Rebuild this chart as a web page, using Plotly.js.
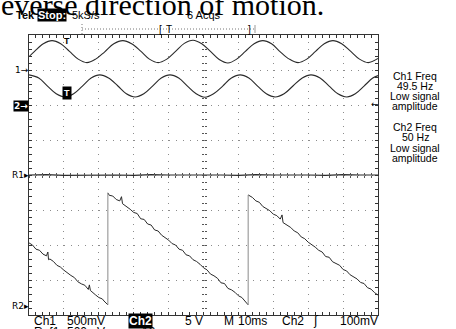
<!DOCTYPE html>
<html>
<head>
<meta charset="utf-8">
<script src="https://cdn.plot.ly/plotly-3.0.1.min.js"></script>
<style>html,body{margin:0;padding:0;background:#fff;}#chart{width:456px;height:329px;}</style>
</head>
<body>
<div id="chart"></div>
<script>
// ---- data (time in ms, amplitude in divisions) ----
const ch1_t = [0, 1.6, 4.1, 6.6, 9.1, 11.6, 14.1, 16.6, 19.1, 21.7, 24.3, 26.9, 29.4, 32.0, 34.5, 37.0, 39.5, 42.0, 44.5, 47.0, 49.5, 52.0, 54.5, 57.0, 59.5, 62.0, 64.5, 67.0, 69.5, 72.0, 74.6, 77.1, 79.6, 82.1, 84.6, 87.1, 89.6, 92.2, 94.7, 97.2, 100];
const ch1_v = [3.38, 3.53, 3.75, 3.84, 3.75, 3.53, 3.31, 3.21, 3.31, 3.52, 3.75, 3.84, 3.75, 3.54, 3.31, 3.21, 3.31, 3.53, 3.76, 3.85, 3.75, 3.53, 3.30, 3.20, 3.31, 3.53, 3.75, 3.84, 3.75, 3.52, 3.31, 3.21, 3.31, 3.53, 3.75, 3.84, 3.75, 3.53, 3.31, 3.21, 3.33];

const ch2_t = [0, 2.8, 5.3, 7.8, 10.3, 12.8, 15.3, 17.8, 20.3, 22.8, 25.4, 27.9, 30.4, 32.9, 35.4, 37.9, 40.4, 42.9, 45.4, 47.9, 50.4, 52.9, 55.5, 58.0, 60.5, 63.0, 65.5, 68.0, 70.5, 73.1, 75.7, 78.3, 80.8, 83.4, 86.0, 88.5, 91.1, 93.5, 96.0, 98.5, 100];
const ch2_v = [2.86, 2.77, 2.54, 2.32, 2.23, 2.32, 2.54, 2.77, 2.86, 2.77, 2.55, 2.32, 2.23, 2.32, 2.54, 2.77, 2.86, 2.77, 2.54, 2.32, 2.22, 2.32, 2.54, 2.77, 2.86, 2.77, 2.54, 2.32, 2.23, 2.32, 2.55, 2.77, 2.86, 2.77, 2.54, 2.32, 2.23, 2.32, 2.54, 2.77, 2.84];

const ref1_t = [0, 5, 10, 15, 20, 25, 30, 35, 40, 45, 50, 55, 60, 65, 70, 75, 80, 85, 90, 95, 100];
const ref1_v = [0, 0.01, -0.01, 0, 0.01, 0, -0.01, 0.01, 0, 0, 0.02, 0, -0.01, 0.01, 0, 0.01, 0, -0.01, 0.01, 0, 0];

const ramp1_t = [0, 1, 2, 3, 4, 5, 5.4, 5.6, 6, 7, 8, 9, 10, 11, 12, 13, 14, 15, 16, 17, 17.3, 17.6, 18, 19, 20, 21, 21.5, 22, 22.6];
const ramp1_v = [-1.94, -2.00, -2.12, -2.15, -2.26, -2.31, -2.20, -2.42, -2.40, -2.47, -2.58, -2.63, -2.72, -2.80, -2.87, -2.93, -3.05, -3.11, -3.15, -3.27, -3.14, -3.30, -3.34, -3.42, -3.50, -3.54, -3.60, -3.66, -3.71];

const ramp2_t = [22.6, 23, 24, 25, 26, 26.5, 26.8, 28, 29, 30, 31, 32, 33, 34, 35, 36, 37, 38, 39, 40, 41, 42, 43, 44, 45, 46, 47, 48, 49, 50, 51, 52, 53, 54, 55, 56, 57, 58, 59, 60, 61, 62, 62.8];
const ramp2_v = [-0.51, -0.58, -0.60, -0.70, -0.74, -0.62, -0.82, -0.90, -0.98, -1.07, -1.10, -1.25, -1.27, -1.40, -1.43, -1.57, -1.60, -1.72, -1.78, -1.86, -1.96, -2.00, -2.12, -2.15, -2.28, -2.31, -2.42, -2.47, -2.55, -2.65, -2.71, -2.83, -2.88, -2.95, -3.08, -3.10, -3.24, -3.28, -3.35, -3.45, -3.50, -3.62, -3.71];

const ramp3_t = [62.8, 64, 65, 66, 67, 68, 69, 70, 71, 72, 72.5, 72.8, 74, 75, 76, 77, 78, 79, 80, 81, 82, 83, 84, 85, 86, 87, 88, 89, 90, 91, 92, 93, 94, 95, 96, 97, 98, 99, 100];
const ramp3_v = [-0.57, -0.64, -0.74, -0.78, -0.90, -0.95, -1.02, -1.12, -1.16, -1.26, -1.14, -1.36, -1.43, -1.50, -1.60, -1.65, -1.77, -1.82, -1.92, -1.98, -2.06, -2.15, -2.20, -2.33, -2.35, -2.48, -2.52, -2.58, -2.70, -2.74, -2.85, -2.90, -2.97, -3.07, -3.10, -3.22, -3.26, -3.36, -3.43];

const freqLabels = ["Ch1 Freq", "49.5 Hz", "Low signal", "amplitude", "Ch2 Freq", "50 Hz", "Low signal", "amplitude"];

// ---- geometry helpers (pixel -> paper) ----
const L = 29, T = 35, W = 349, H = 280;
const px = x => (x - L) / W;
const py = y => (T + H - y) / H;

const TRACE = '#2a2a2a';
const last = a => a[a.length - 1];
const edge_t = [last(ramp1_t), ramp2_t[0], null, last(ramp2_t), ramp3_t[0]];
const edge_v = [last(ramp1_v), ramp2_v[0], null, last(ramp2_v), ramp3_v[0]];

const data = [
  {x: ch1_t, y: ch1_v, xaxis: 'x', yaxis: 'y2', mode: 'lines', line: {color: TRACE, width: 1.1, shape: 'spline'}, hoverinfo: 'skip'},
  {x: ch2_t, y: ch2_v, xaxis: 'x', yaxis: 'y3', mode: 'lines', line: {color: TRACE, width: 1.1, shape: 'spline'}, hoverinfo: 'skip'},
  {x: ref1_t, y: ref1_v, xaxis: 'x2', yaxis: 'y', mode: 'lines', line: {color: TRACE, width: 1.1}, hoverinfo: 'skip'},
  {x: edge_t, y: edge_v, xaxis: 'x3', yaxis: 'y', mode: 'lines', line: {color: '#8a8a8a', width: 1}, hoverinfo: 'skip'},
  {x: ramp1_t, y: ramp1_v, xaxis: 'x', yaxis: 'y', mode: 'lines', line: {color: TRACE, width: 1}, hoverinfo: 'skip'},
  {x: ramp2_t, y: ramp2_v, xaxis: 'x', yaxis: 'y', mode: 'lines', line: {color: TRACE, width: 1}, hoverinfo: 'skip'},
  {x: ramp3_t, y: ramp3_v, xaxis: 'x', yaxis: 'y', mode: 'lines', line: {color: TRACE, width: 1}, hoverinfo: 'skip'}
];

const GRID = '#8c8c8c';
const baseX = {range: [0, 100], dtick: 10, showticklabels: false, fixedrange: true};
const baseY = {range: [-4, 4], dtick: 1, showticklabels: false, fixedrange: true};
const centerTickX = (ticks) => Object.assign({}, baseX, {overlaying: 'x', anchor: 'free', position: 0.5, showgrid: false, zeroline: false, showline: false, ticks: ticks, ticklen: 2, tickcolor: '#555', dtick: 2});
const centerTickY = (ticks) => Object.assign({}, baseY, {overlaying: 'y', anchor: 'free', position: 0.5, showgrid: false, zeroline: false, showline: false, ticks: ticks, ticklen: 2, tickcolor: '#555', dtick: 0.2});

const SANS = 'Liberation Sans, Arial, sans-serif';
const DJ = 'DejaVu Sans, sans-serif';
function ann(text, x, y, o) {
  o = o || {};
  return Object.assign({
    text: text, xref: 'paper', yref: 'paper', x: px(x), y: py(y),
    xanchor: 'left', yanchor: 'middle', showarrow: false,
    font: {family: SANS, size: 10, color: '#000'}
  }, o);
}
const f = (size, extra) => ({font: Object.assign({family: SANS, size: size, color: '#000'}, extra || {})});

const annotations = [
  ann('everse direction of motion.', -1, 5, {font: {family: 'Liberation Serif, Times New Roman, serif', size: 30, color: '#000'}}),
  ann('Tek', 14, 15, f(11, {weight: 'bold'})),
  ann('Stop:', 37, 15, {bgcolor: '#000', borderpad: 0, font: {family: SANS, size: 11, color: '#fff', weight: 'bold'}}),
  ann('5kS/s', 70, 15, f(11)),
  ann('6 Acqs', 185, 15, f(11)),
  ann('[', 157, 29, f(10)),
  ann('T', 164, 29, f(10)),
  ann(']', 246, 29, f(10)),
  ann('1→', 13, 70, f(9, {family: DJ})),
  ann('2→', 13, 106, {bgcolor: '#000', borderpad: 0, font: {family: DJ, size: 9, color: '#fff', weight: 'bold'}}),
  ann('R1▸', 10, 175, f(9, {family: DJ})),
  ann('R2▸', 10, 306, f(9, {family: DJ})),
  ann('T', 62, 41, f(9, {weight: 'bold'})),
  ann('T', 62, 93, {bgcolor: '#000', borderpad: 1, font: {family: SANS, size: 9, color: '#fff', weight: 'bold'}}),
  ann('←', 369, 104, f(9, {family: DJ})),
  ann('Ch1', 32, 321, f(12)),
  ann('500mV', 65, 321, f(12)),
  ann('Ch2', 128, 321, {bgcolor: '#000', borderpad: 0, font: {family: SANS, size: 12, color: '#fff', weight: 'bold'}}),
  ann('5 V', 183, 321, f(12)),
  ann('M', 222, 321, f(12)),
  ann('10ms', 236, 321, f(12)),
  ann('Ch2', 280, 321, f(12)),
  ann('ʃ', 311, 321, f(12, {family: DJ})),
  ann('100mV', 338, 321, f(12)),
  ann('Ref1', 32, 332, f(12)),
  ann('500mV', 65, 332, f(12)),
  ann('10ms', 140, 332, f(12))
];
const rightY = [76, 86, 96, 106, 127, 137, 148, 158];
freqLabels.forEach((s, i) => annotations.push(ann(s, 415, rightY[i], {xanchor: 'center', font: {family: SANS, size: 10.5, color: '#000'}})));

const shapes = [
  {type: 'line', xref: 'paper', yref: 'paper', x0: px(82), x1: px(255), y0: py(29), y1: py(29), line: {color: '#777', width: 1, dash: '1px,2px'}},
  {type: 'line', xref: 'paper', yref: 'paper', x0: px(82), x1: px(82), y0: py(24), y1: py(35), line: {color: '#777', width: 1, dash: '1px,2px'}},
  {type: 'line', xref: 'paper', yref: 'paper', x0: px(255), x1: px(255), y0: py(25), y1: py(33), line: {color: '#999', width: 1}}
];

const layout = {
  width: 456, height: 329,
  margin: {l: L, r: 456 - L - W, t: T, b: 329 - T - H, pad: 0},
  paper_bgcolor: '#fff', plot_bgcolor: '#fff',
  showlegend: false,
  xaxis: Object.assign({}, baseX, {showgrid: true, gridcolor: GRID, gridwidth: 1, griddash: '1px,6px', zeroline: false,
    showline: true, linecolor: '#333', linewidth: 1, mirror: 'ticks', ticks: 'inside', ticklen: 3, tickcolor: '#333',
    minor: {dtick: 2, ticks: 'inside', ticklen: 3, tickcolor: '#333', showgrid: false}}),
  yaxis: Object.assign({}, baseY, {showgrid: true, gridcolor: GRID, gridwidth: 1, griddash: '1px,6px', zeroline: false,
    showline: true, linecolor: '#333', linewidth: 1, mirror: 'ticks', ticks: 'inside', ticklen: 3, tickcolor: '#333',
    minor: {dtick: 0.2, ticks: 'inside', ticklen: 3, tickcolor: '#333', showgrid: false}}),
  xaxis2: centerTickX('inside'),
  xaxis3: centerTickX('outside'),
  yaxis2: centerTickY('inside'),
  yaxis3: centerTickY('outside'),
  annotations: annotations,
  shapes: shapes
};

Plotly.newPlot('chart', data, layout, {staticPlot: true, displayModeBar: false});
</script>
</body>
</html>
